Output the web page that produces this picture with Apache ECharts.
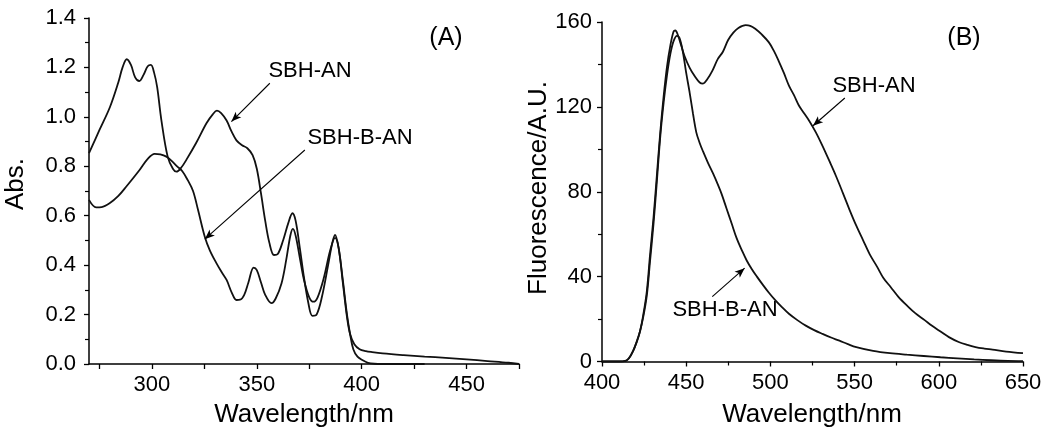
<!DOCTYPE html>
<html><head><meta charset="utf-8">
<script src="https://cdn.jsdelivr.net/npm/echarts@6/dist/echarts.min.js"></script>
<style>html,body{margin:0;padding:0;background:#fff}#c{width:1050px;height:434px}</style>
</head><body><div id="c"></div>
<script>
// Panel (A): absorption, [wavelength nm, Abs.]
const absSBHAN = [[270,0.853],[275,0.947],[280,1.04],[284,1.14],[286,1.2],[288,1.233],[290,1.21],[292,1.16],[294,1.145],[296,1.17],[298,1.205],[299.5,1.21],[301,1.18],[302.5,1.12],[304.5,0.987],[307.5,0.839],[310,0.79],[311.7,0.778],[314,0.795],[316.4,0.826],[321,0.893],[326,0.974],[329,1.01],[331,1.025],[333,1.015],[335.6,0.985],[338,0.94],[340.3,0.905],[343,0.885],[345.5,0.873],[348,0.845],[350,0.79],[352,0.69],[354,0.58],[356,0.49],[358.2,0.441],[360,0.445],[362.6,0.502],[365,0.57],[367,0.61],[368.5,0.58],[370.5,0.47],[372.5,0.35],[374.5,0.25],[376.5,0.195],[378.5,0.2],[381,0.27],[384,0.4],[386,0.49],[387.3,0.522],[389,0.47],[391,0.34],[393,0.2],[394.5,0.12],[396,0.06],[398,0.03],[400.5,0.015],[403,0.005],[406,0.001],[410,0],[430,0]];
const absSBHBAN = [[270,0.664],[273.4,0.634],[276,0.635],[279.8,0.65],[284,0.68],[287.8,0.718],[294.1,0.785],[298,0.83],[301.3,0.85],[304,0.848],[306.9,0.839],[309,0.825],[312,0.8],[314.5,0.78],[317,0.745],[319.6,0.7],[322,0.623],[325.2,0.515],[327.6,0.46],[330.8,0.407],[333,0.375],[335.6,0.34],[338,0.29],[340.3,0.259],[342,0.26],[344,0.28],[346,0.33],[348.5,0.39],[350,0.38],[352,0.33],[354,0.28],[357,0.246],[359,0.265],[361.8,0.327],[364,0.42],[366,0.52],[367.2,0.547],[368.5,0.52],[370.5,0.43],[372.5,0.34],[375,0.27],[377,0.252],[379,0.27],[382,0.35],[385,0.46],[387.3,0.51],[389,0.47],[391,0.33],[393,0.19],[394.5,0.12],[396.5,0.08],[399,0.06],[402,0.052],[405,0.048],[410,0.043],[420,0.036],[430,0.03],[440,0.025],[450,0.019],[460,0.012],[470,0.005],[475,0]];
// Panel (B): fluorescence, [wavelength nm, intensity A.U.]
const flSBHAN = [[400,0],[410,0],[414,0.3],[416,1.5],[418.5,5],[420.5,9],[422.5,14],[424.5,22],[426.6,33],[428.5,50],[430.6,68],[432.6,88],[434.6,108],[436.6,125],[438.6,139],[440.6,149],[442.5,155.5],[443.5,156],[445,154],[447,149],[449,144],[452,138.5],[455,134.5],[458,131.5],[460,131],[462.5,133],[465.5,137],[468.8,142.6],[471.8,146],[474.9,151.5],[478,155],[481,157.2],[485.3,158.5],[488,158.2],[491,156.8],[495,154],[499,150.5],[502,146.5],[505,141.5],[508,136],[511,130],[514,125.5],[517,120.5],[520,117],[523,113.5],[527,108],[531,101.5],[535,94.5],[539,87.3],[543,79.5],[547,71.5],[551,64],[555,57.2],[559,50.5],[563.4,44.6],[567,39.5],[571.5,35],[576,30.5],[581.6,26],[586,22.8],[591.6,19.5],[596,16.8],[601.7,13.8],[606,11.5],[611.8,9.2],[617,7.8],[621.8,6.8],[627,6.1],[631.9,5.6],[640,4.7],[650,3.9]];
const flSBHBAN = [[400,0],[410,0],[414,0.3],[416,1.5],[418.5,5],[420.5,9],[422.5,14],[424.5,21],[426.6,31],[428.5,47],[430.6,65],[432.6,85],[434.6,106],[436.6,122],[438.6,135],[440.6,145],[442.5,151],[444.5,153.5],[446,152.5],[448,146],[450,136],[452,127],[454,117],[456,108],[458,103],[460,99],[463,93.5],[466,88.5],[469,83],[471,79],[474,72],[477,65],[480,58],[483,52.5],[486,47.5],[489,43.5],[492,40],[495,36.7],[499,32.5],[503,28.8],[507,25.5],[511,22.5],[516,19.5],[521,16.9],[526,14.8],[531,13],[536,11.3],[541,9.8],[546,8.2],[551,6.8],[561,5],[571,3.9],[581,3.2],[591,2.6],[601,2.0],[611,1.5],[621,1.0],[631,0.6],[641,0.3],[650,0.2]];
// Axis ticks / labels
const absXTicks = [275,300,325,350,375,400,425,450,475];
const absXLabels = [300,350,400,450];
const absYRange = [0, 1.4, 0.2];
const flXRange = [400, 650, 50];
const flYRange = [0, 160, 40];
// Annotation arrows [from, to] in data coordinates
const absArrowSBHAN = [[356.2,1.136],[337.9,0.981]];
const absArrowSBHBAN = [[372.9,0.866],[325.2,0.505]];
const flArrowSBHAN = [[544.2,124.2],[525.3,111.1]];
const flArrowSBHBAN = [[465.5,30.6],[484.7,44]];

const FONT = 'Liberation Sans, Arial, Helvetica, sans-serif';
const axisCommon = {
  axisLine: {show: true, onZero: false, lineStyle: {color: '#000', width: 1.5}},
  axisTick: {show: true, inside: false, length: 5, lineStyle: {color: '#000', width: 1.3}},
  minorTick: {show: true, splitNumber: 2, length: 4, lineStyle: {color: '#000', width: 1.2}},
  splitLine: {show: false},
  minorSplitLine: {show: false}
};
function arrowLine(pair) {
  return {
    silent: true, animation: false,
    symbol: ['none', 'arrow'], symbolSize: 9,
    label: {show: false},
    itemStyle: {color: '#000'},
    lineStyle: {color: '#000', width: 1.1, type: 'solid', opacity: 1},
    emphasis: {disabled: true},
    data: [[{coord: pair[0], symbol: 'none'}, {coord: pair[1], symbol: 'arrow', symbolSize: [6, 10]}]]
  };
}
const lineStyle = {color: '#111', width: 1.8};
const chart = echarts.init(document.getElementById('c'), null, {renderer: 'canvas'});
chart.setOption({
  animation: false,
  backgroundColor: '#fff',
  color: ['#000'],
  grid: [
    {left: 89, top: 18, width: 430, height: 346},
    {left: 602, top: 22, width: 421, height: 339.5}
  ],
  xAxis: [
    Object.assign({}, axisCommon, {
      type: 'value', gridIndex: 0, min: 270, max: 475,
      axisTick: Object.assign({}, axisCommon.axisTick, {customValues: absXTicks}),
      minorTick: {show: false},
      axisLabel: {customValues: absXLabels, color: '#000', fontSize: 22, fontFamily: FONT, margin: 10}
    }),
    Object.assign({}, axisCommon, {
      type: 'value', gridIndex: 1, min: flXRange[0], max: flXRange[1], interval: flXRange[2],
      axisLabel: {color: '#000', fontSize: 22, fontFamily: FONT, margin: 10}
    })
  ],
  yAxis: [
    Object.assign({}, axisCommon, {
      type: 'value', gridIndex: 0, min: absYRange[0], max: absYRange[1], interval: absYRange[2],
      axisLabel: {color: '#000', fontSize: 22, fontFamily: FONT, margin: 13, formatter: v => v.toFixed(1)}
    }),
    Object.assign({}, axisCommon, {
      type: 'value', gridIndex: 1, min: flYRange[0], max: flYRange[1], interval: flYRange[2],
      axisLabel: {color: '#000', fontSize: 22, fontFamily: FONT, margin: 10}
    })
  ],
  series: [
    {name: 'SBH-AN', type: 'line', xAxisIndex: 0, yAxisIndex: 0, data: absSBHAN, showSymbol: false, smooth: 0.35, lineStyle, markLine: arrowLine(absArrowSBHAN)},
    {name: 'SBH-B-AN', type: 'line', xAxisIndex: 0, yAxisIndex: 0, data: absSBHBAN, showSymbol: false, smooth: 0.35, lineStyle, markLine: arrowLine(absArrowSBHBAN)},
    {name: 'SBH-AN', type: 'line', xAxisIndex: 1, yAxisIndex: 1, data: flSBHAN, showSymbol: false, smooth: 0.35, lineStyle, markLine: arrowLine(flArrowSBHAN)},
    {name: 'SBH-B-AN', type: 'line', xAxisIndex: 1, yAxisIndex: 1, data: flSBHBAN, showSymbol: false, smooth: 0.35, lineStyle, markLine: arrowLine(flArrowSBHBAN)}
  ],
  graphic: [
    {type: 'text', x: 446, y: 38, style: {text: '(A)', font: '25px ' + FONT, fill: '#000', align: 'center', verticalAlign: 'middle'}},
    {type: 'text', x: 964, y: 38, style: {text: '(B)', font: '25px ' + FONT, fill: '#000', align: 'center', verticalAlign: 'middle'}},
    {type: 'text', x: 310, y: 71, style: {text: 'SBH-AN', font: '22px ' + FONT, fill: '#000', align: 'center', verticalAlign: 'middle'}},
    {type: 'text', x: 360, y: 138, style: {text: 'SBH-B-AN', font: '22px ' + FONT, fill: '#000', align: 'center', verticalAlign: 'middle'}},
    {type: 'text', x: 874, y: 86, style: {text: 'SBH-AN', font: '22px ' + FONT, fill: '#000', align: 'center', verticalAlign: 'middle'}},
    {type: 'text', x: 725, y: 310, style: {text: 'SBH-B-AN', font: '22px ' + FONT, fill: '#000', align: 'center', verticalAlign: 'middle'}},
    {type: 'text', x: 304, y: 415, style: {text: 'Wavelength/nm', font: '26px ' + FONT, fill: '#000', align: 'center', verticalAlign: 'middle'}},
    {type: 'text', x: 812, y: 415, style: {text: 'Wavelength/nm', font: '26px ' + FONT, fill: '#000', align: 'center', verticalAlign: 'middle'}},
    {type: 'text', x: 16, y: 184, rotation: Math.PI / 2, style: {text: 'Abs.', font: '26px ' + FONT, fill: '#000', align: 'center', verticalAlign: 'middle'}},
    {type: 'text', x: 539, y: 188, rotation: Math.PI / 2, style: {text: 'Fluorescence/A.U.', font: '26px ' + FONT, fill: '#000', align: 'center', verticalAlign: 'middle'}}
  ]
});
</script></body></html>
